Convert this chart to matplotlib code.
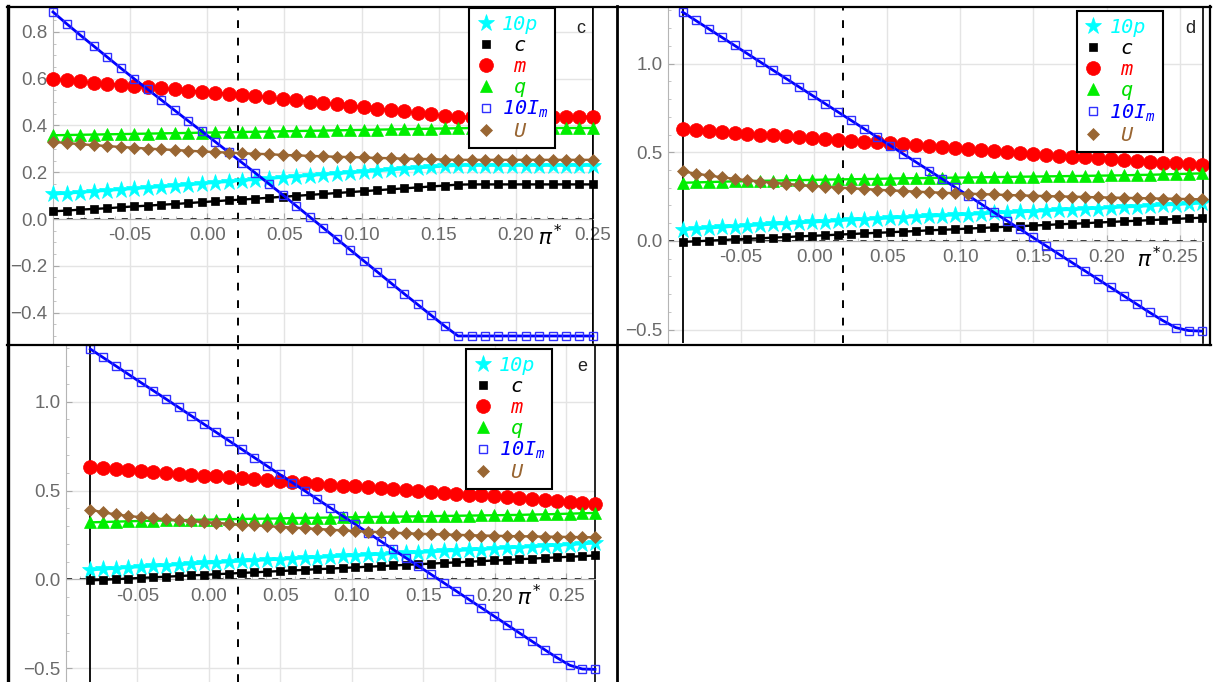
import matplotlib
matplotlib.use("Agg")
import matplotlib.pyplot as plt
import numpy as np
from matplotlib.lines import Line2D
from matplotlib.ticker import MultipleLocator, FixedLocator

plt.rcParams['mathtext.fontset'] = 'custom'
plt.rcParams['mathtext.it'] = 'DejaVu Sans Mono:italic'
plt.rcParams['mathtext.rm'] = 'DejaVu Sans Mono'
plt.rcParams['font.family'] = ['Liberation Sans', 'DejaVu Sans']

# ---------------- data ----------------
# x grids (pi*)
x_c = np.linspace(-0.1, 0.25, 41)
x_d = np.linspace(-0.09, 0.265, 41)
x_e = np.linspace(-0.083, 0.27, 41)

# panel c
c_p = [0.105, 0.109, 0.113, 0.117, 0.121, 0.125, 0.129, 0.133, 0.137, 0.141, 0.145, 0.150, 0.155, 0.159,
       0.164, 0.168, 0.172, 0.177, 0.181, 0.185, 0.189, 0.193, 0.197, 0.201, 0.205, 0.209, 0.213, 0.217,
       0.221, 0.225, 0.228, 0.228, 0.228, 0.228, 0.228, 0.228, 0.228, 0.228, 0.228, 0.228, 0.228]
c_c = [0.033, 0.036, 0.040, 0.043, 0.046, 0.050, 0.054, 0.057, 0.061, 0.064, 0.068, 0.072, 0.076, 0.080,
       0.083, 0.087, 0.091, 0.095, 0.099, 0.103, 0.107, 0.111, 0.115, 0.119, 0.123, 0.127, 0.131, 0.135,
       0.139, 0.143, 0.147, 0.148, 0.148, 0.148, 0.148, 0.148, 0.148, 0.148, 0.148, 0.148, 0.148]
c_m = [0.598, 0.593, 0.588, 0.583, 0.579, 0.574, 0.569, 0.564, 0.559, 0.554, 0.549, 0.544, 0.540, 0.535,
       0.530, 0.525, 0.520, 0.514, 0.508, 0.502, 0.496, 0.490, 0.484, 0.478, 0.472, 0.466, 0.460, 0.454,
       0.448, 0.442, 0.437, 0.437, 0.437, 0.437, 0.437, 0.437, 0.437, 0.437, 0.437, 0.437, 0.437]
c_q = [0.358, 0.359, 0.360, 0.361, 0.362, 0.363, 0.364, 0.365, 0.366, 0.367, 0.368, 0.369, 0.370, 0.371,
       0.372, 0.373, 0.374, 0.375, 0.376, 0.377, 0.378, 0.379, 0.380, 0.381, 0.382, 0.383, 0.384, 0.385,
       0.386, 0.387, 0.388, 0.389, 0.389, 0.389, 0.389, 0.389, 0.389, 0.389, 0.389, 0.389, 0.389]
c_Im = [0.885, 0.835, 0.787, 0.740, 0.693, 0.646, 0.600, 0.555, 0.510, 0.465, 0.420, 0.376, 0.331, 0.286,
        0.241, 0.196, 0.150, 0.104, 0.057, 0.010, -0.037, -0.084, -0.131, -0.178, -0.225, -0.272, -0.319,
        -0.365, -0.411, -0.457, -0.500, -0.500, -0.500, -0.500, -0.500, -0.500, -0.500, -0.500, -0.500,
        -0.500, -0.500]
c_U = [0.330, 0.325, 0.320, 0.316, 0.312, 0.308, 0.305, 0.301, 0.298, 0.295, 0.292, 0.289, 0.286, 0.284,
       0.281, 0.279, 0.277, 0.274, 0.272, 0.270, 0.268, 0.266, 0.265, 0.263, 0.261, 0.260, 0.258, 0.257,
       0.256, 0.254, 0.253, 0.253, 0.253, 0.253, 0.253, 0.253, 0.253, 0.253, 0.253, 0.253, 0.253]

# panel d
d_p = [0.062, 0.067, 0.072, 0.076, 0.081, 0.085, 0.089, 0.093, 0.097, 0.101, 0.105, 0.109, 0.113, 0.117,
       0.120, 0.124, 0.128, 0.131, 0.135, 0.138, 0.142, 0.145, 0.149, 0.152, 0.156, 0.159, 0.162, 0.166,
       0.169, 0.173, 0.176, 0.179, 0.183, 0.186, 0.190, 0.193, 0.197, 0.201, 0.204, 0.208, 0.212]
d_c = [-0.005, -0.002, 0.002, 0.005, 0.009, 0.012, 0.015, 0.019, 0.022, 0.026, 0.029, 0.032, 0.036, 0.039,
       0.043, 0.046, 0.049, 0.053, 0.056, 0.060, 0.063, 0.066, 0.070, 0.073, 0.077, 0.080, 0.083, 0.087,
       0.090, 0.094, 0.097, 0.100, 0.104, 0.107, 0.111, 0.114, 0.117, 0.121, 0.124, 0.128, 0.131]
d_m = [0.630, 0.625, 0.620, 0.615, 0.610, 0.605, 0.600, 0.595, 0.590, 0.585, 0.580, 0.575, 0.570, 0.565,
       0.560, 0.555, 0.550, 0.545, 0.540, 0.535, 0.530, 0.525, 0.519, 0.514, 0.509, 0.503, 0.498, 0.492,
       0.487, 0.481, 0.476, 0.471, 0.466, 0.461, 0.456, 0.451, 0.446, 0.442, 0.438, 0.434, 0.430]
d_q = [0.328, 0.330, 0.332, 0.334, 0.336, 0.337, 0.339, 0.340, 0.342, 0.343, 0.344, 0.346, 0.347, 0.348,
       0.349, 0.350, 0.352, 0.353, 0.354, 0.355, 0.356, 0.357, 0.358, 0.359, 0.360, 0.361, 0.362, 0.363,
       0.364, 0.365, 0.366, 0.367, 0.368, 0.369, 0.370, 0.372, 0.373, 0.375, 0.377, 0.379, 0.381]
d_Im = [1.290, 1.243, 1.196, 1.149, 1.102, 1.055, 1.008, 0.961, 0.914, 0.867, 0.820, 0.773, 0.726, 0.679,
        0.632, 0.585, 0.538, 0.491, 0.444, 0.397, 0.350, 0.303, 0.256, 0.209, 0.161, 0.114, 0.067, 0.020,
        -0.027, -0.074, -0.121, -0.168, -0.215, -0.262, -0.309, -0.356, -0.403, -0.448, -0.488, -0.505,
        -0.508]
d_U = [0.392, 0.380, 0.369, 0.359, 0.350, 0.342, 0.335, 0.328, 0.322, 0.316, 0.311, 0.306, 0.301, 0.297,
       0.293, 0.289, 0.285, 0.282, 0.278, 0.275, 0.272, 0.269, 0.267, 0.264, 0.262, 0.259, 0.257, 0.255,
       0.253, 0.251, 0.250, 0.248, 0.246, 0.245, 0.243, 0.242, 0.240, 0.239, 0.238, 0.236, 0.235]

# panel e
e_p = [0.052, 0.057, 0.061, 0.066, 0.070, 0.074, 0.078, 0.082, 0.086, 0.090, 0.094, 0.098, 0.102, 0.105,
       0.109, 0.112, 0.116, 0.119, 0.123, 0.126, 0.130, 0.133, 0.137, 0.140, 0.144, 0.147, 0.151, 0.154,
       0.158, 0.161, 0.165, 0.168, 0.172, 0.176, 0.179, 0.183, 0.187, 0.191, 0.195, 0.199, 0.203]
e_c = [-0.005, -0.002, 0.002, 0.005, 0.009, 0.012, 0.016, 0.019, 0.023, 0.026, 0.030, 0.033, 0.037, 0.040,
       0.044, 0.047, 0.051, 0.054, 0.058, 0.061, 0.065, 0.068, 0.072, 0.075, 0.079, 0.082, 0.086, 0.089,
       0.093, 0.096, 0.100, 0.103, 0.107, 0.110, 0.114, 0.117, 0.121, 0.124, 0.128, 0.131, 0.135]
e_m = [0.630, 0.625, 0.620, 0.615, 0.610, 0.604, 0.599, 0.594, 0.589, 0.584, 0.579, 0.574, 0.569, 0.564,
       0.559, 0.554, 0.548, 0.543, 0.538, 0.533, 0.528, 0.523, 0.518, 0.513, 0.508, 0.502, 0.497, 0.492,
       0.487, 0.482, 0.477, 0.472, 0.467, 0.462, 0.457, 0.452, 0.447, 0.442, 0.437, 0.432, 0.427]
e_q = [0.321, 0.323, 0.325, 0.327, 0.329, 0.330, 0.332, 0.333, 0.335, 0.336, 0.337, 0.339, 0.340, 0.341,
       0.342, 0.343, 0.345, 0.346, 0.347, 0.348, 0.349, 0.350, 0.351, 0.352, 0.353, 0.354, 0.355, 0.356,
       0.357, 0.358, 0.359, 0.360, 0.361, 0.362, 0.363, 0.365, 0.366, 0.368, 0.370, 0.372, 0.374]
e_Im = [1.295, 1.248, 1.201, 1.154, 1.107, 1.061, 1.014, 0.967, 0.920, 0.873, 0.826, 0.779, 0.732, 0.685,
        0.638, 0.591, 0.545, 0.498, 0.451, 0.404, 0.357, 0.310, 0.263, 0.216, 0.169, 0.122, 0.076, 0.029,
        -0.018, -0.065, -0.112, -0.159, -0.206, -0.253, -0.300, -0.347, -0.394, -0.440, -0.482, -0.503,
        -0.505]
e_U = [0.393, 0.377, 0.366, 0.357, 0.350, 0.344, 0.338, 0.333, 0.328, 0.323, 0.318, 0.313, 0.308, 0.304,
       0.300, 0.296, 0.292, 0.288, 0.284, 0.280, 0.276, 0.272, 0.269, 0.266, 0.263, 0.260, 0.257, 0.255,
       0.253, 0.251, 0.249, 0.247, 0.246, 0.244, 0.243, 0.242, 0.241, 0.240, 0.239, 0.238, 0.237]

series_labels = ['10p', ' c', ' m', ' q', r'10$I_m$', ' U']
x_ticks = [-0.05, 0.0, 0.05, 0.10, 0.15, 0.20, 0.25]
v_line_x = 0.02

# ---------------- styling ----------------
W, H = 1213, 682
fig = plt.figure(figsize=(W / 100, H / 100), dpi=100)

styles = [
    dict(color='#00FFFF', marker='*', ms=12.5, mfc='#00FFFF', mec='#00FFFF', mew=0.5),
    dict(color='#000000', marker='s', ms=6, mfc='#000000', mec='#000000', mew=0.5),
    dict(color='#FF0000', marker='o', ms=10, mfc='#FF0000', mec='#FF0000', mew=0.5),
    dict(color='#00EE00', marker='^', ms=8.5, mfc='#00EE00', mec='#00EE00', mew=0.5),
    dict(color='#0000FF', marker='s', ms=6, mfc='none', mec='#3030FF', mew=1.0),
    dict(color='#996633', marker='D', ms=6.5, mfc='#996633', mec='#996633', mew=0.5),
]
text_colors = ['#00FFFF', '#000000', '#FF0000', '#00DD00', '#0000FF', '#996633']
GRID = '#e4e4e4'
TICKC = '#6a6a6a'


def px_axes(l, t, r, b):
    return fig.add_axes([l / W, 1 - b / H, (r - l) / W, (b - t) / H])


panels = [
    dict(box=(53, 8, 593, 343), x=x_c, ys=[c_p, c_c, c_m, c_q, c_Im, c_U], xlim=(-0.1, 0.25),
         ylim=(-0.53, 0.902), major=0.2, minor=0.05, name='c', black_x=0.25, pi_x=0.222,
         leg=(0.93, 1.0)),
    dict(box=(668, 8, 1203, 343), x=x_d, ys=[d_p, d_c, d_m, d_q, d_Im, d_U], xlim=(-0.1, 0.266),
         ylim=(-0.575, 1.313), major=0.5, minor=0.1, name='d', black_x=-0.09, pi_x=0.229,
         leg=(0.925, 0.99)),
    dict(box=(66, 346, 595, 682), x=x_e, ys=[e_p, e_c, e_m, e_q, e_Im, e_U], xlim=(-0.1, 0.27),
         ylim=(-0.576, 1.312), major=0.5, minor=0.1, name='e', black_x=-0.083, pi_x=0.224,
         leg=(0.919, 0.991)),
]

for P in panels:
    ax = px_axes(*P['box'])
    ax.set_xlim(*P['xlim'])
    ax.set_ylim(*P['ylim'])
    for i, (yv, st) in enumerate(zip(P['ys'], styles)):
        ax.plot(P['x'], yv, lw=1.7 if i != 4 else 2.0, zorder=3 + i, clip_on=False, **st)
    # y=0 axis line and dashed reference lines
    ax.axhline(0, color='black', lw=1.1, ls=(0, (4, 5)), zorder=2.5)
    ax.axvline(v_line_x, color='black', lw=1.4, ls=(0, (4, 5)), zorder=2.5)
    ax.axvline(P['black_x'], color='black', lw=1.3, zorder=2.6)
    # spines
    ax.spines['top'].set_visible(False)
    ax.spines['right'].set_color('black')
    ax.spines['right'].set_linewidth(1.2)
    ax.spines['left'].set_color('#b5b5b5')
    ax.spines['bottom'].set_position(('data', 0))
    ax.spines['bottom'].set_color('#b5b5b5')
    # ticks
    ax.xaxis.set_major_locator(FixedLocator(x_ticks))
    ax.set_xticklabels(['%.2f' % t for t in x_ticks])
    ax.xaxis.set_minor_locator(MultipleLocator(0.01))
    ax.yaxis.set_major_locator(MultipleLocator(P['major']))
    ax.yaxis.set_minor_locator(MultipleLocator(P['minor']))
    ax.yaxis.set_major_formatter(plt.FuncFormatter(lambda v, pos: ('%.1f' % v).replace('-', '\u2212')))
    ax.tick_params(axis='both', which='major', direction='in', length=4, color='#aaaaaa',
                   labelcolor=TICKC, labelsize=13.5)
    ax.tick_params(axis='both', which='minor', direction='in', length=2.5, color='#bbbbbb')
    ax.tick_params(axis='x', which='both', pad=6)
    ax.tick_params(axis='y', which='both', pad=4)
    ax.grid(True, which='major', color=GRID, lw=1, zorder=0)
    ax.set_axisbelow(True)
    ax.annotate(r'$\pi^{*}$', xy=(P['pi_x'], 0), xycoords='data', xytext=(0, -4),
                textcoords='offset points', ha='center', va='top', fontsize=16, color='black',
                family='DejaVu Serif')
    ax.text(0.985, 0.965, P['name'], transform=ax.transAxes, ha='right', va='top', fontsize=13,
            color='#222222', zorder=20)
    # legend
    handles = [Line2D([], [], ls='none', **{k: v for k, v in st.items() if k != 'color'})
               for st in styles]
    leg = ax.legend(handles, series_labels, loc='upper right', bbox_to_anchor=P['leg'],
                    prop=dict(family='DejaVu Sans Mono', style='italic', size=14.5),
                    frameon=True, fancybox=False, framealpha=1, edgecolor='black',
                    handlelength=0.9, handletextpad=0.35, labelspacing=0.1, borderpad=0.35,
                    borderaxespad=0.0)
    leg.get_frame().set_linewidth(1.5)
    leg.set_zorder(30)
    for t, col in zip(leg.get_texts(), text_colors):
        t.set_color(col)

# table borders
def fline(x0, y0, x1, y1, lw):
    fig.add_artist(Line2D([x0 / W, x1 / W], [1 - y0 / H, 1 - y1 / H], color='black', lw=lw,
                          transform=fig.transFigure, zorder=50))

fline(7, 7, 1211, 7, 1.6)
fline(7, 344.5, 1211, 344.5, 1.6)
fline(8, 6, 8, 682, 2.4)
fline(617, 6, 617, 682, 2.0)
fline(1210, 6, 1210, 345, 1.6)

fig.savefig('out.png', dpi=100)
